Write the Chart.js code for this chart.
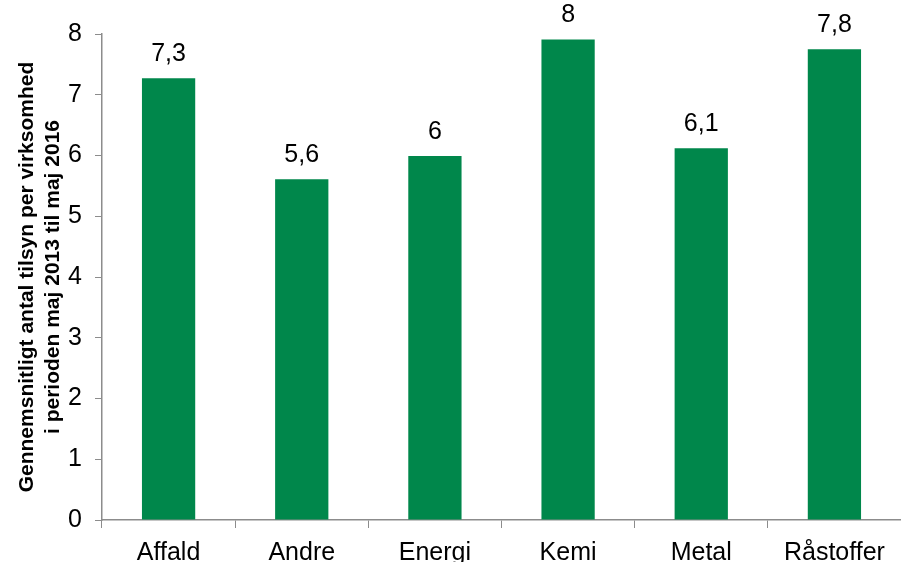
<!DOCTYPE html>
<html>
<head>
<meta charset="utf-8">
<script src="https://cdn.jsdelivr.net/npm/chart.js@4/dist/chart.umd.min.js"></script>
<style>
  html, body { margin: 0; padding: 0; background: #fff; overflow: hidden; }
  #wrap { width: 901px; height: 562px; }
</style>
</head>
<body>
<div id="wrap"><canvas id="myChart" width="901" height="562"></canvas></div>
<script>
const categories = ["Affald", "Andre", "Energi", "Kemi", "Metal", "Råstoffer"];
const values = [7.27, 5.61, 5.99, 7.91, 6.12, 7.75];
const valueLabels = ["7,3", "5,6", "6", "8", "6,1", "7,8"];
const yTicks = [0, 1, 2, 3, 4, 5, 6, 7, 8];
const yTitle = ["Gennemsnitligt antal tilsyn per virksomhed", "i perioden maj 2013 til maj 2016"];

const fontFamily = "'Liberation Sans', Arial, sans-serif";
const axisGrey = "#8c8c8c";

// labels above the bars
const barLabels = {
    id: "barLabels",
    afterDatasetsDraw(chart) {
        const ctx = chart.ctx;
        const meta = chart.getDatasetMeta(0);
        ctx.save();
        ctx.font = "25px " + fontFamily;
        ctx.fillStyle = "#000";
        ctx.textAlign = "center";
        ctx.textBaseline = "alphabetic";
        meta.data.forEach((bar, i) => {
            ctx.fillText(valueLabels[i], bar.x, bar.y - 17);
        });
        ctx.restore();
    }
};

let ctx = document.getElementById("myChart");
var myBarChart = new Chart(ctx, {
    type: "bar",
    data: {
        labels: categories,
        datasets: [{
            data: values,
            backgroundColor: "#00874b",
            borderWidth: 0,
            barPercentage: 0.4,
            categoryPercentage: 1
        }]
    },
    options: {
        responsive: false,
        animation: false,
        layout: { padding: { top: 34, right: 0, left: 0, bottom: 0 } },
        plugins: {
            legend: { display: false },
            tooltip: { enabled: false }
        },
        scales: {
            x: {
                grid: {
                    display: true,
                    drawOnChartArea: false,
                    drawTicks: true,
                    tickLength: 8,
                    color: axisGrey,
                    offset: true
                },
                border: { display: true, color: axisGrey, width: 1.5 },
                ticks: {
                    color: "#000",
                    font: { size: 25, family: fontFamily },
                    padding: 10,
                    maxRotation: 0
                },
                afterFit(scale) { scale.height = 42; }
            },
            y: {
                min: 0,
                max: 8,
                afterBuildTicks(scale) {
                    scale.ticks = yTicks.map(v => ({ value: v }));
                },
                grid: {
                    display: true,
                    drawOnChartArea: false,
                    drawTicks: true,
                    tickLength: 7,
                    color: axisGrey
                },
                border: { display: true, color: axisGrey, width: 1.5 },
                ticks: {
                    color: "#000",
                    font: { size: 25, family: fontFamily },
                    padding: 13
                },
                title: {
                    display: true,
                    text: yTitle,
                    color: "#000",
                    font: { size: 21, weight: "bold", family: fontFamily, lineHeight: 1.2 },
                    padding: { top: 15, bottom: 0 }
                },
                afterFit(scale) { scale.width = 102; }
            }
        }
    },
    plugins: [barLabels]
});
</script>
</body>
</html>
